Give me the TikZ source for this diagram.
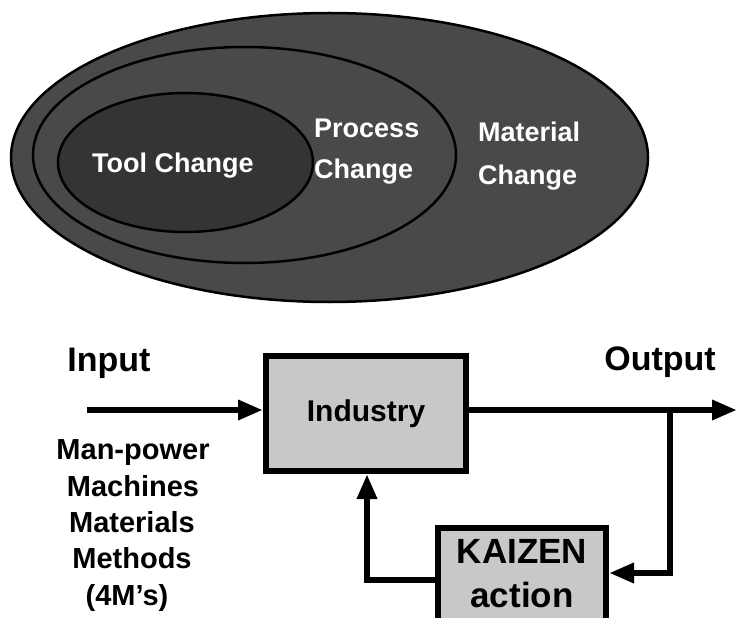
\documentclass[tikz,border=0pt]{standalone}
\usepackage{fontspec}
\setmainfont{Liberation Sans}
\usetikzlibrary{arrows.meta,calc}
\definecolor{ringgray}{HTML}{494949}
\definecolor{coregray}{HTML}{343434}
\definecolor{boxgray}{HTML}{C8C8C8}
\tikzset{
  ring/.style={draw=black, line width=2.5bp, fill=ringgray},
  core/.style={draw=black, line width=2.5bp, fill=coregray},
  whitelabel/.style={text=white, font=\bfseries\fontsize{27bp}{32bp}\selectfont, inner sep=0pt, anchor=base west},
  blockbox/.style={draw=black, line width=6bp, fill=boxgray, inner sep=0pt},
  bigtext/.style={font=\bfseries\fontsize{34bp}{40bp}\selectfont, inner sep=0pt, anchor=base},
  boxtext/.style={font=\bfseries\fontsize{35bp}{40bp}\selectfont, inner sep=0pt, anchor=base},
  listtext/.style={font=\bfseries\fontsize{29bp}{34bp}\selectfont, inner sep=0pt, anchor=base},
  flow/.style={line width=6.5bp, line join=miter, -{Triangle[length=25bp,width=19bp]}},
}
\begin{document}
\begin{tikzpicture}[x=1bp,y=-1bp]
\useasboundingbox (0,0) rectangle (737,618);
\clip (0,0) rectangle (737,618);

% nested change scopes
\filldraw[ring] (329.5,157.5) ellipse [x radius=318.5, y radius=144.5];
\filldraw[ring] (244.5,155) ellipse [x radius=211.5, y radius=108];
\filldraw[core] (185.5,162.5) ellipse [x radius=127.5, y radius=69.5];

\node[whitelabel] (tool) at (92,173) {Tool Change};
\node[whitelabel] (proc1) at (314,138) {Process};
\node[whitelabel] (proc2) at (314,179) {Change};
\node[whitelabel] (mat1) at (478,142) {Material};
\node[whitelabel] (mat2) at (478,185) {Change};

% process loop
\node[bigtext] (inlabel) at (109,371) {Input};
\node[bigtext] (outlabel) at (660,370) {Output};

\node[blockbox, minimum width=200bp, minimum height=115bp,
      font=\bfseries\fontsize{30bp}{36bp}\selectfont] (ind) at (366,413.5) {Industry};
\node[blockbox, minimum width=168bp, minimum height=130bp] (kaizen) at (522,593) {};
\node[boxtext] (kz1) at (522,563) {KAIZEN};
\node[boxtext] (kz2) at (522,607) {action};

\node[listtext] (m1) at (133,459) {Man-power};
\node[listtext] (m2) at (133,496) {Machines};
\node[listtext] (m3) at (132,532) {Materials};
\node[listtext] (m4) at (132,568) {Methods};
\node[listtext] (m5) at (127,605) {(4M’s)};

\coordinate (inStart) at (87,410);
\coordinate (outEnd) at (737,410);
\coordinate (tap) at (670,410);
\coordinate (fbCorner) at (670,573);
\coordinate (retCorner) at (367,580);

\draw[flow] (inStart) -- (inStart -| ind.west);
\draw[flow] (ind.east |- outEnd) -- (outEnd);
\draw[flow] (tap) -- (fbCorner) -- (fbCorner -| kaizen.east);
\draw[flow] (retCorner -| kaizen.west) -- (retCorner) -- (retCorner |- ind.south);
\end{tikzpicture}
\end{document}
